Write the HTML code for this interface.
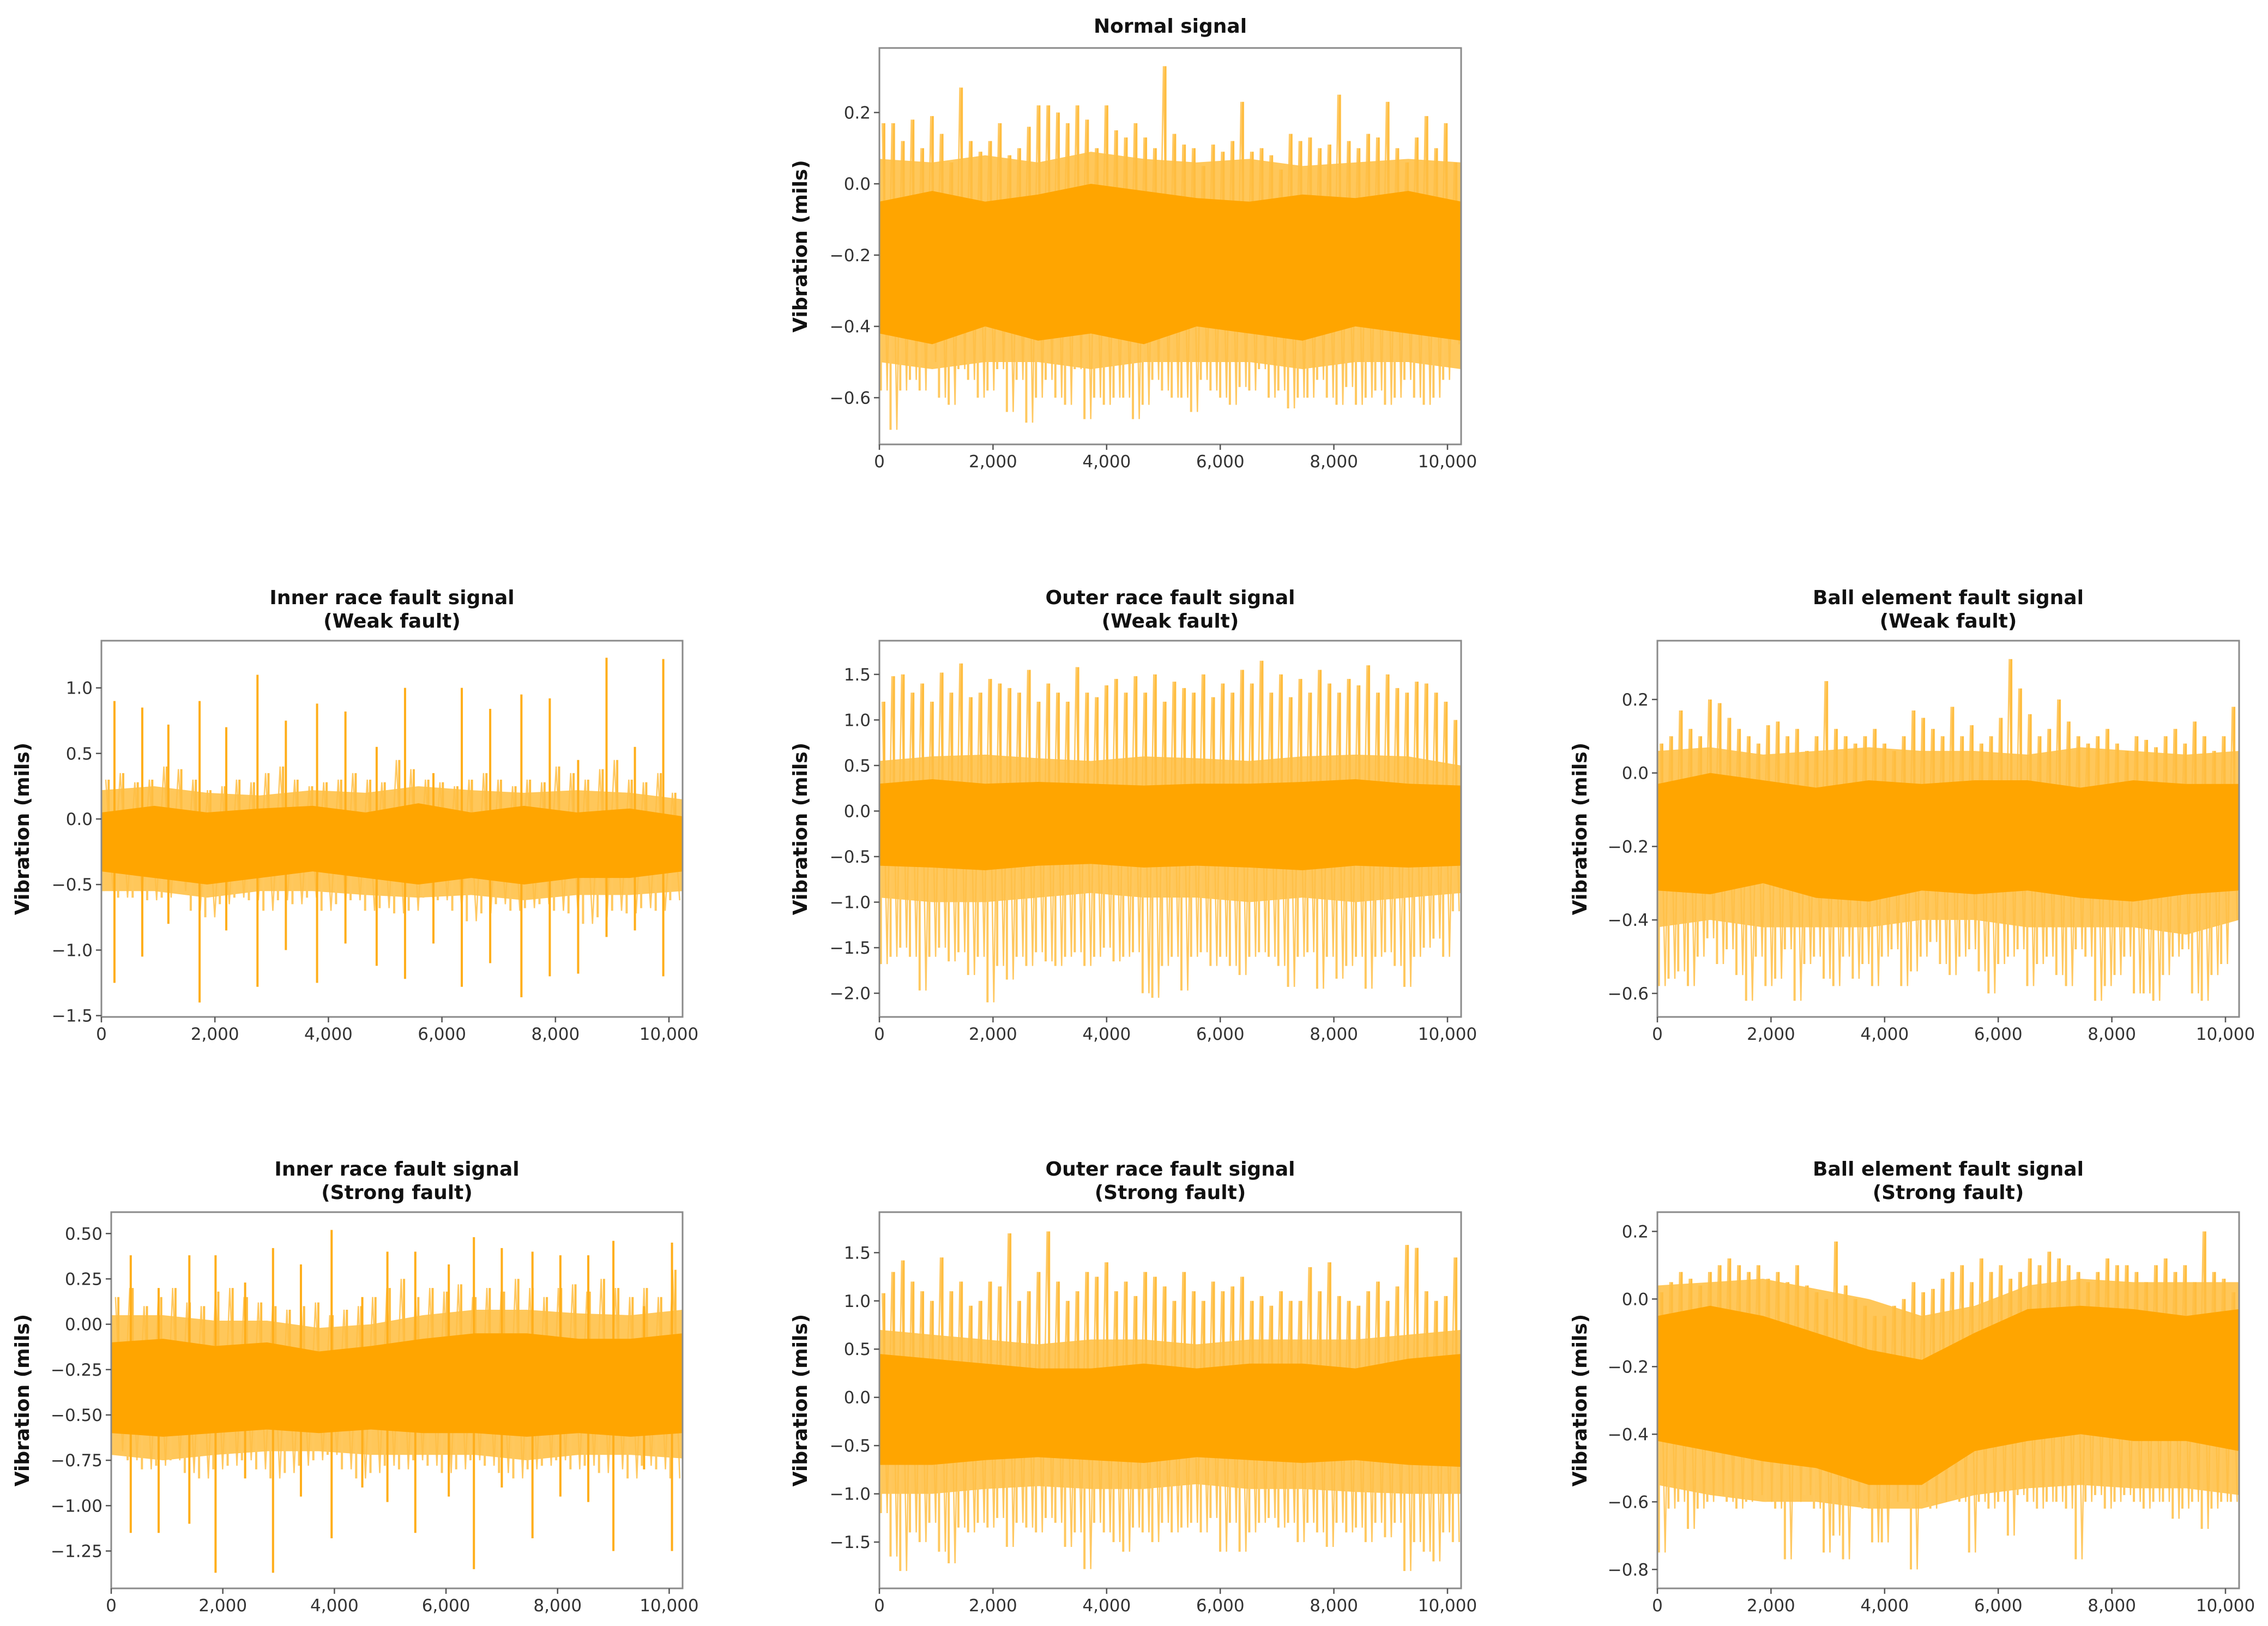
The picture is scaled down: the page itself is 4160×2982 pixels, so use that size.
<!DOCTYPE html>
<html><head><meta charset="utf-8">
<style>
html,body{margin:0;padding:0;background:#fff;}
svg{display:block;}
text{font-family:"DejaVu Sans","Liberation Sans",sans-serif;}
</style></head>
<body>
<svg id="fig" width="4160" height="2982" viewBox="0 0 4160 2982" xmlns="http://www.w3.org/2000/svg"></svg>
<script>
// ---------- shared x axis data ----------
const xTicks = [0, 2000, 4000, 6000, 8000, 10000];
const xTickLabels = ["0", "2,000", "4,000", "6,000", "8,000", "10,000"];

// ---------- Normal signal ----------
const normalYTicks = [0.2, 0.0, -0.2, -0.4, -0.6];
const normalYLabels = ["0.2", "0.0", "\u22120.2", "\u22120.4", "\u22120.6"];
const normalHi = [0.17,0.17,0.12,0.18,0.1,0.19,0.14,0.06,0.27,0.12,0.09,0.12,0.17,0.08,0.1,0.16,0.22,0.22,0.2,0.17,0.22,0.18,0.1,0.22,0.15,0.13,0.17,0.13,0.1,0.33,0.14,0.11,0.1,0.05,0.11,0.09,0.12,0.23,0.09,0.1,0.08,0.04,0.14,0.12,0.13,0.1,0.11,0.25,0.12,0.1,0.14,0.13,0.23,0.1,0.06,0.13,0.19,0.1,0.17,0.06];
const normalLo = [-0.58,-0.69,-0.58,-0.55,-0.58,-0.5,-0.6,-0.62,-0.52,-0.55,-0.6,-0.58,-0.52,-0.64,-0.55,-0.67,-0.6,-0.55,-0.6,-0.62,-0.52,-0.66,-0.6,-0.62,-0.6,-0.6,-0.66,-0.62,-0.55,-0.58,-0.6,-0.6,-0.64,-0.55,-0.58,-0.6,-0.62,-0.57,-0.58,-0.52,-0.6,-0.58,-0.63,-0.6,-0.6,-0.55,-0.6,-0.62,-0.57,-0.62,-0.6,-0.58,-0.62,-0.6,-0.55,-0.6,-0.62,-0.6,-0.55,-0.45];
const normalMidHi = [0.07,0.06,0.08,0.06,0.09,0.07,0.06,0.07,0.05,0.06,0.07,0.06];
const normalMidLo = [-0.5,-0.52,-0.5,-0.5,-0.52,-0.5,-0.5,-0.5,-0.52,-0.5,-0.5,-0.52];
const normalCoreHi = [-0.05,-0.02,-0.05,-0.03,0.0,-0.02,-0.04,-0.05,-0.03,-0.04,-0.02,-0.05];
const normalCoreLo = [-0.42,-0.45,-0.4,-0.44,-0.42,-0.45,-0.4,-0.42,-0.44,-0.4,-0.42,-0.44];

// ---------- Inner race weak ----------
const innerWeakYTicks = [1.0, 0.5, 0.0, -0.5, -1.0, -1.5];
const innerWeakYLabels = ["1.0", "0.5", "0.0", "\u22120.5", "\u22121.0", "\u22121.5"];
const innerWeakHi = [0.3,0.35,0.28,0.3,0.4,0.38,0.3,0.22,0.25,0.3,0.28,0.35,0.4,0.3,0.25,0.28,0.3,0.35,0.3,0.28,0.45,0.38,0.3,0.28,0.25,0.3,0.35,0.3,0.25,0.3,0.28,0.4,0.35,0.3,0.38,0.45,0.3,0.28,0.35,0.2];
const innerWeakLo = [-0.55,-0.6,-0.6,-0.62,-0.6,-0.55,-0.7,-0.75,-0.65,-0.6,-0.62,-0.7,-0.62,-0.65,-0.6,-0.7,-0.65,-0.62,-0.7,-0.68,-0.72,-0.7,-0.6,-0.62,-0.7,-0.78,-0.72,-0.65,-0.7,-0.68,-0.65,-0.7,-0.72,-0.8,-0.75,-0.7,-0.72,-0.68,-0.7,-0.62];
const innerWeakMidHi = [0.22,0.25,0.2,0.18,0.22,0.2,0.25,0.22,0.2,0.22,0.2,0.15];
const innerWeakMidLo = [-0.55,-0.55,-0.6,-0.55,-0.55,-0.58,-0.6,-0.58,-0.62,-0.58,-0.58,-0.55];
const innerWeakCoreHi = [0.05,0.1,0.05,0.08,0.1,0.05,0.12,0.05,0.1,0.05,0.08,0.02];
const innerWeakCoreLo = [-0.4,-0.45,-0.5,-0.45,-0.4,-0.45,-0.5,-0.45,-0.5,-0.45,-0.45,-0.4];
const innerWeakImpX = [230,720,1180,1730,2200,2750,3250,3800,4300,4850,5350,5850,6350,6850,7400,7900,8400,8900,9400,9900];
const innerWeakImpHi = [0.9,0.85,0.72,0.9,0.7,1.1,0.75,0.88,0.82,0.55,1.0,0.35,1.0,0.84,0.95,0.92,0.45,1.23,0.55,1.22];
const innerWeakImpLo = [-1.25,-1.05,-0.8,-1.4,-0.85,-1.28,-1.0,-1.25,-0.95,-1.12,-1.22,-0.95,-1.28,-1.1,-1.36,-1.2,-1.18,-0.9,-0.85,-1.2];

// ---------- Outer race weak ----------
const outerWeakYTicks = [1.5, 1.0, 0.5, 0.0, -0.5, -1.0, -1.5, -2.0];
const outerWeakYLabels = ["1.5", "1.0", "0.5", "0.0", "\u22120.5", "\u22121.0", "\u22121.5", "\u22122.0"];
const outerWeakHi = [1.2,1.48,1.5,1.3,1.4,1.2,1.52,1.3,1.62,1.25,1.3,1.45,1.4,1.35,1.3,1.55,1.2,1.4,1.3,1.2,1.58,1.3,1.25,1.38,1.45,1.3,1.48,1.3,1.5,1.2,1.42,1.35,1.3,1.5,1.25,1.4,1.3,1.55,1.4,1.65,1.3,1.5,1.25,1.45,1.3,1.55,1.4,1.3,1.45,1.38,1.6,1.3,1.5,1.35,1.3,1.42,1.4,1.3,1.2,1.0];
const outerWeakLo = [-1.68,-1.6,-1.5,-1.6,-1.97,-1.6,-1.5,-1.65,-1.55,-1.8,-1.6,-2.1,-1.7,-1.85,-1.6,-1.7,-1.55,-1.65,-1.7,-1.6,-1.55,-1.7,-1.6,-1.5,-1.65,-1.6,-1.55,-2.0,-2.05,-1.7,-1.6,-1.97,-1.6,-1.55,-1.7,-1.6,-1.7,-1.8,-1.6,-1.55,-1.6,-1.7,-1.93,-1.6,-1.55,-1.95,-1.6,-1.84,-1.7,-1.6,-1.95,-1.6,-1.55,-1.7,-1.93,-1.6,-1.5,-1.4,-1.6,-1.1];
const outerWeakMidHi = [0.55,0.6,0.62,0.58,0.55,0.6,0.58,0.55,0.6,0.62,0.6,0.5];
const outerWeakMidLo = [-0.95,-1.0,-1.0,-0.95,-0.9,-0.95,-0.95,-1.0,-0.95,-1.0,-0.95,-0.9];
const outerWeakCoreHi = [0.3,0.35,0.3,0.32,0.3,0.28,0.3,0.3,0.32,0.35,0.3,0.28];
const outerWeakCoreLo = [-0.6,-0.62,-0.65,-0.6,-0.58,-0.62,-0.6,-0.62,-0.65,-0.6,-0.62,-0.6];

// ---------- Ball element weak ----------
const ballWeakYTicks = [0.2, 0.0, -0.2, -0.4, -0.6];
const ballWeakYLabels = ["0.2", "0.0", "\u22120.2", "\u22120.4", "\u22120.6"];
const ballWeakHi = [0.08,0.1,0.17,0.12,0.1,0.2,0.19,0.15,0.12,0.1,0.08,0.13,0.14,0.1,0.12,0.06,0.1,0.25,0.12,0.1,0.08,0.1,0.12,0.08,0.06,0.1,0.17,0.15,0.12,0.1,0.18,0.1,0.13,0.08,0.1,0.15,0.31,0.23,0.16,0.1,0.12,0.2,0.14,0.1,0.08,0.1,0.12,0.08,0.06,0.1,0.09,0.07,0.1,0.12,0.08,0.14,0.1,0.06,0.1,0.18];
const ballWeakLo = [-0.58,-0.56,-0.54,-0.58,-0.5,-0.45,-0.52,-0.48,-0.55,-0.62,-0.5,-0.58,-0.56,-0.48,-0.62,-0.52,-0.5,-0.56,-0.58,-0.5,-0.56,-0.52,-0.58,-0.5,-0.48,-0.58,-0.54,-0.5,-0.46,-0.52,-0.55,-0.5,-0.48,-0.54,-0.6,-0.52,-0.5,-0.48,-0.58,-0.52,-0.5,-0.55,-0.58,-0.48,-0.5,-0.62,-0.58,-0.55,-0.5,-0.6,-0.6,-0.62,-0.55,-0.5,-0.48,-0.6,-0.62,-0.55,-0.52,-0.4];
const ballWeakMidHi = [0.06,0.07,0.05,0.06,0.07,0.06,0.06,0.05,0.07,0.06,0.05,0.06];
const ballWeakMidLo = [-0.42,-0.4,-0.42,-0.42,-0.42,-0.4,-0.4,-0.42,-0.42,-0.42,-0.44,-0.4];
const ballWeakCoreHi = [-0.03,0.0,-0.02,-0.04,-0.02,-0.03,-0.02,-0.02,-0.04,-0.02,-0.03,-0.03];
const ballWeakCoreLo = [-0.32,-0.33,-0.3,-0.34,-0.35,-0.32,-0.33,-0.32,-0.34,-0.35,-0.33,-0.32];

// ---------- Inner race strong ----------
const innerStrongYTicks = [0.5, 0.25, 0.0, -0.25, -0.5, -0.75, -1.0, -1.25];
const innerStrongYLabels = ["0.50", "0.25", "0.00", "\u22120.25", "\u22120.50", "\u22120.75", "\u22121.00", "\u22121.25"];
const innerStrongHi = [0.15,0.2,0.1,0.15,0.2,0.12,0.1,0.18,0.2,0.15,0.12,0.1,0.08,0.1,0.12,0.05,0.08,0.1,0.15,0.2,0.25,0.15,0.2,0.18,0.22,0.15,0.2,0.18,0.25,0.2,0.15,0.2,0.22,0.18,0.25,0.2,0.15,0.2,0.15,0.3];
const innerStrongLo = [-0.7,-0.75,-0.8,-0.78,-0.75,-0.82,-0.85,-0.8,-0.78,-0.75,-0.8,-0.85,-0.82,-0.78,-0.75,-0.72,-0.8,-0.85,-0.82,-0.78,-0.8,-0.75,-0.78,-0.82,-0.8,-0.75,-0.78,-0.82,-0.85,-0.8,-0.78,-0.75,-0.8,-0.78,-0.82,-0.8,-0.85,-0.78,-0.8,-0.85];
const innerStrongMidHi = [0.05,0.05,0.02,0.02,-0.02,0.0,0.05,0.08,0.08,0.06,0.05,0.08];
const innerStrongMidLo = [-0.72,-0.75,-0.72,-0.7,-0.7,-0.72,-0.72,-0.72,-0.75,-0.72,-0.72,-0.74];
const innerStrongCoreHi = [-0.1,-0.08,-0.12,-0.1,-0.15,-0.12,-0.08,-0.05,-0.05,-0.08,-0.08,-0.05];
const innerStrongCoreLo = [-0.6,-0.62,-0.6,-0.58,-0.6,-0.58,-0.6,-0.6,-0.62,-0.6,-0.62,-0.6];
const innerStrongImpX = [350,850,1400,1870,2400,2900,3400,3950,4500,4950,5450,6050,6500,7000,7550,8050,8550,9000,9550,10050];
const innerStrongImpHi = [0.38,0.2,0.38,0.38,0.23,0.42,0.33,0.52,0.15,0.4,0.4,0.33,0.48,0.42,0.4,0.38,0.38,0.46,0.1,0.45];
const innerStrongImpLo = [-1.15,-1.15,-1.1,-1.37,-0.85,-1.37,-0.95,-1.18,-0.9,-0.98,-1.15,-0.95,-1.35,-0.9,-1.18,-0.95,-0.98,-1.25,-0.8,-1.25];

// ---------- Outer race strong ----------
const outerStrongYTicks = [1.5, 1.0, 0.5, 0.0, -0.5, -1.0, -1.5];
const outerStrongYLabels = ["1.5", "1.0", "0.5", "0.0", "\u22120.5", "\u22121.0", "\u22121.5"];
const outerStrongHi = [1.08,1.3,1.42,1.2,1.1,1.0,1.45,1.1,1.2,0.95,1.0,1.2,1.15,1.7,1.0,1.1,1.3,1.72,1.2,1.0,1.1,1.3,1.25,1.4,1.1,1.2,1.05,1.3,1.25,1.15,1.0,1.3,1.1,1.0,1.2,1.1,1.15,1.25,1.0,1.05,0.95,1.1,1.0,1.0,1.35,1.1,1.4,1.05,1.0,0.95,1.1,1.2,1.0,1.15,1.58,1.55,1.1,1.0,1.05,1.45];
const outerStrongLo = [-1.2,-1.65,-1.8,-1.4,-1.5,-1.3,-1.6,-1.72,-1.35,-1.4,-1.3,-1.35,-1.25,-1.55,-1.3,-1.35,-1.4,-1.25,-1.3,-1.55,-1.4,-1.78,-1.3,-1.4,-1.5,-1.6,-1.35,-1.4,-1.5,-1.3,-1.4,-1.35,-1.3,-1.4,-1.25,-1.6,-1.3,-1.6,-1.4,-1.3,-1.25,-1.35,-1.3,-1.5,-1.3,-1.4,-1.55,-1.3,-1.4,-1.35,-1.5,-1.3,-1.45,-1.3,-1.8,-1.5,-1.6,-1.7,-1.4,-1.5];
const outerStrongMidHi = [0.7,0.65,0.6,0.55,0.6,0.6,0.55,0.6,0.6,0.6,0.65,0.7];
const outerStrongMidLo = [-1.0,-1.0,-0.95,-0.92,-0.95,-0.95,-0.9,-0.95,-0.95,-0.98,-1.0,-1.0];
const outerStrongCoreHi = [0.45,0.4,0.35,0.3,0.3,0.35,0.3,0.35,0.35,0.3,0.4,0.45];
const outerStrongCoreLo = [-0.7,-0.7,-0.65,-0.62,-0.65,-0.68,-0.62,-0.65,-0.68,-0.65,-0.7,-0.72];

// ---------- Ball element strong ----------
const ballStrongYTicks = [0.2, 0.0, -0.2, -0.4, -0.6, -0.8];
const ballStrongYLabels = ["0.2", "0.0", "\u22120.2", "\u22120.4", "\u22120.6", "\u22120.8"];
const ballStrongHi = [0.02,0.05,0.08,0.06,0.04,0.08,0.1,0.12,0.1,0.08,0.1,0.06,0.08,0.05,0.1,0.04,0.02,0.0,0.17,0.04,0.0,-0.02,-0.05,-0.05,-0.02,0.0,0.05,0.02,0.03,0.06,0.08,0.1,0.05,0.12,0.08,0.1,0.06,0.08,0.12,0.1,0.14,0.12,0.1,0.08,0.05,0.08,0.12,0.1,0.1,0.08,0.05,0.1,0.12,0.08,0.1,0.05,0.2,0.08,0.06,0.02];
const ballStrongLo = [-0.75,-0.62,-0.6,-0.68,-0.62,-0.6,-0.58,-0.6,-0.62,-0.6,-0.58,-0.6,-0.62,-0.77,-0.6,-0.58,-0.62,-0.75,-0.7,-0.77,-0.6,-0.62,-0.72,-0.72,-0.6,-0.6,-0.8,-0.6,-0.62,-0.6,-0.58,-0.6,-0.75,-0.6,-0.62,-0.6,-0.7,-0.58,-0.6,-0.62,-0.6,-0.6,-0.62,-0.77,-0.6,-0.58,-0.62,-0.6,-0.58,-0.6,-0.62,-0.6,-0.6,-0.65,-0.62,-0.6,-0.68,-0.62,-0.6,-0.6];
const ballStrongMidHi = [0.04,0.05,0.06,0.03,0.0,-0.05,-0.02,0.04,0.06,0.05,0.05,0.05];
const ballStrongMidLo = [-0.55,-0.58,-0.6,-0.6,-0.62,-0.62,-0.58,-0.56,-0.55,-0.56,-0.56,-0.58];
const ballStrongCoreHi = [-0.05,-0.02,-0.05,-0.1,-0.15,-0.18,-0.1,-0.03,-0.02,-0.03,-0.05,-0.03];
const ballStrongCoreLo = [-0.42,-0.45,-0.48,-0.5,-0.55,-0.55,-0.45,-0.42,-0.4,-0.42,-0.42,-0.45];

// ---------- rendering ----------
const NS = "http://www.w3.org/2000/svg";
const svg = document.getElementById("fig");
const X_MAX = 10240;

function mk(tag, attrs, parent) {
  const e = document.createElementNS(NS, tag);
  for (const k in attrs) e.setAttribute(k, attrs[k]);
  parent.appendChild(e);
  return e;
}

function drawChart(c) {
  const g = mk("g", {}, svg);
  
  
  const xs = v => c.x0 + (v / X_MAX) * (c.x1 - c.x0);
  const ys = v => c.y1 - (v - c.ymin) / (c.ymax - c.ymin) * (c.y1 - c.y0);

  const clipId = "clip-" + c.name;
  const cp = mk("clipPath", { id: clipId }, g);
  mk("rect", { x: c.x0, y: c.y0, width: c.x1 - c.x0, height: c.y1 - c.y0 }, cp);
  const dg = mk("g", { "clip-path": "url(#" + clipId + ")" }, g);
  
  

  function band(hiArr, loArr, fill, nm) {
    const n = hiArr.length;
    const pts = [];
    for (let i = 0; i < n; i++) pts.push(xs(i / (n - 1) * X_MAX) + "," + ys(hiArr[i]));
    for (let i = n - 1; i >= 0; i--) pts.push(xs(i / (n - 1) * X_MAX) + "," + ys(loArr[i]));
    const p = mk("polygon", { points: pts.join(" "), fill: fill }, dg);
    
    
  }
  band(c.midHi, c.midLo, "#FFC75A", "mid-band");

  // noise peaks
  const n = c.hi.length;
  const zz = [];
  for (let i = 0; i < n; i++) {
    const xv = (i + 0.5) / n * X_MAX;
    const ci = Math.min(c.coreHi.length - 1, Math.round(i / n * (c.coreHi.length - 1)));
    const mid = (c.coreHi[ci] + c.coreLo[ci]) / 2;
    const l1 = mk("line", { x1: xs(xv), x2: xs(xv), y1: ys(mid), y2: ys(c.hi[i]), stroke: "#FFBD3F", "stroke-width": 4 }, dg);
    
    
    const xv2 = (i + 0.15) / n * X_MAX;
    const l2 = mk("line", { x1: xs(xv2), x2: xs(xv2), y1: ys(mid), y2: ys(c.lo[i]), stroke: "#FFC85E", "stroke-width": 4 }, dg);
    
    
    zz.push(xs((i + 0.3) / n * X_MAX) + "," + ys(c.hi[i]));
    zz.push(xs((i + 0.8) / n * X_MAX) + "," + ys(c.lo[i]));
  }
  const zl = mk("polyline", { points: zz.join(" "), fill: "none", stroke: "#FFBE45", "stroke-width": 2.5, "stroke-opacity": 0.85 }, dg);
  
  
  if (c.impX) {
    for (let i = 0; i < c.impX.length; i++) {
      const l = mk("line", { x1: xs(c.impX[i]), x2: xs(c.impX[i]), y1: ys(c.impHi[i]), y2: ys(c.impLo[i]), stroke: "#FFAE1A", "stroke-width": 4 }, dg);
      
      
    }
  }
  band(c.coreHi, c.coreLo, "#FFA500", "core-band");

  // frame
  const fr = mk("rect", { x: c.x0, y: c.y0, width: c.x1 - c.x0, height: c.y1 - c.y0, fill: "none", stroke: "#8a8a8a", "stroke-width": 3 }, g);
  
  

  // x ticks
  for (let i = 0; i < xTicks.length; i++) {
    const x = xs(xTicks[i]);
    const t = mk("line", { x1: x, x2: x, y1: c.y1, y2: c.y1 + 10, stroke: "#555", "stroke-width": 2.5 }, g);
    
    
    const tx = mk("text", { x: x, y: c.y1 + 42, "font-size": 31, fill: "#333", "text-anchor": "middle" }, g);
    
    
    tx.textContent = xTickLabels[i];
  }
  // y ticks
  for (let i = 0; i < c.yTicks.length; i++) {
    const y = ys(c.yTicks[i]);
    const t = mk("line", { x1: c.x0 - 10, x2: c.x0, y1: y, y2: y, stroke: "#555", "stroke-width": 2.5 }, g);
    
    
    const tx = mk("text", { x: c.x0 - 16, y: y + 11, "font-size": 31, fill: "#333", "text-anchor": "end" }, g);
    
    
    tx.textContent = c.yLabels[i];
  }
  // y label
  const cy = (c.y0 + c.y1) / 2;
  const yl = mk("text", { x: c.ylx, y: cy, "font-size": 36, "font-weight": "bold", fill: "#111", "text-anchor": "middle", transform: "rotate(-90 " + c.ylx + " " + cy + ")" }, g);
  
  
  yl.textContent = "Vibration (mils)";
  // title
  const cx = (c.x0 + c.x1) / 2;
  c.title.forEach((line, k) => {
    const tt = mk("text", { x: cx, y: c.ty + k * 43, "font-size": 36, "font-weight": "bold", fill: "#111", "text-anchor": "middle" }, g);
    
    
    tt.textContent = line;
  });
}

const R2 = [1175, 1865], R3 = [2223, 2913];
drawChart({ name: "normal-signal-chart", x0: 1613, x1: 2680, y0: 88, y1: 815, ymin: -0.731, ymax: 0.381, ylx: 1480, ty: 60, title: ["Normal signal"],
  yTicks: normalYTicks, yLabels: normalYLabels, hi: normalHi, lo: normalLo, midHi: normalMidHi, midLo: normalMidLo, coreHi: normalCoreHi, coreLo: normalCoreLo });
drawChart({ name: "inner-weak-chart", x0: 186, x1: 1252, y0: R2[0], y1: R2[1], ymin: -1.51, ymax: 1.36, ylx: 53, ty: 1108, title: ["Inner race fault signal", "(Weak fault)"],
  yTicks: innerWeakYTicks, yLabels: innerWeakYLabels, hi: innerWeakHi, lo: innerWeakLo, midHi: innerWeakMidHi, midLo: innerWeakMidLo, coreHi: innerWeakCoreHi, coreLo: innerWeakCoreLo,
  impX: innerWeakImpX, impHi: innerWeakImpHi, impLo: innerWeakImpLo });
drawChart({ name: "outer-weak-chart", x0: 1613, x1: 2680, y0: R2[0], y1: R2[1], ymin: -2.26, ymax: 1.87, ylx: 1480, ty: 1108, title: ["Outer race fault signal", "(Weak fault)"],
  yTicks: outerWeakYTicks, yLabels: outerWeakYLabels, hi: outerWeakHi, lo: outerWeakLo, midHi: outerWeakMidHi, midLo: outerWeakMidLo, coreHi: outerWeakCoreHi, coreLo: outerWeakCoreLo });
drawChart({ name: "ball-weak-chart", x0: 3040, x1: 4107, y0: R2[0], y1: R2[1], ymin: -0.664, ymax: 0.36, ylx: 2910, ty: 1108, title: ["Ball element fault signal", "(Weak fault)"],
  yTicks: ballWeakYTicks, yLabels: ballWeakYLabels, hi: ballWeakHi, lo: ballWeakLo, midHi: ballWeakMidHi, midLo: ballWeakMidLo, coreHi: ballWeakCoreHi, coreLo: ballWeakCoreLo });
drawChart({ name: "inner-strong-chart", x0: 204, x1: 1252, y0: R3[0], y1: R3[1], ymin: -1.456, ymax: 0.618, ylx: 53, ty: 2156, title: ["Inner race fault signal", "(Strong fault)"],
  yTicks: innerStrongYTicks, yLabels: innerStrongYLabels, hi: innerStrongHi, lo: innerStrongLo, midHi: innerStrongMidHi, midLo: innerStrongMidLo, coreHi: innerStrongCoreHi, coreLo: innerStrongCoreLo,
  impX: innerStrongImpX, impHi: innerStrongImpHi, impLo: innerStrongImpLo });
drawChart({ name: "outer-strong-chart", x0: 1613, x1: 2680, y0: R3[0], y1: R3[1], ymin: -1.98, ymax: 1.92, ylx: 1480, ty: 2156, title: ["Outer race fault signal", "(Strong fault)"],
  yTicks: outerStrongYTicks, yLabels: outerStrongYLabels, hi: outerStrongHi, lo: outerStrongLo, midHi: outerStrongMidHi, midLo: outerStrongMidLo, coreHi: outerStrongCoreHi, coreLo: outerStrongCoreLo });
drawChart({ name: "ball-strong-chart", x0: 3040, x1: 4107, y0: R3[0], y1: R3[1], ymin: -0.856, ymax: 0.257, ylx: 2910, ty: 2156, title: ["Ball element fault signal", "(Strong fault)"],
  yTicks: ballStrongYTicks, yLabels: ballStrongYLabels, hi: ballStrongHi, lo: ballStrongLo, midHi: ballStrongMidHi, midLo: ballStrongMidLo, coreHi: ballStrongCoreHi, coreLo: ballStrongCoreLo });
</script>
</body></html>
